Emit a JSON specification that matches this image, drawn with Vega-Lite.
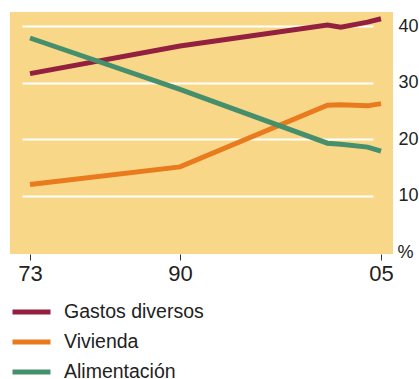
{
  "$schema": "https://vega.github.io/schema/vega-lite/v6.json",
  "width": 383,
  "height": 242,
  "autosize": {"type": "none"},
  "padding": {"left": 10, "top": 12, "right": 26, "bottom": 125},
  "background": "white",
  "config": {
    "view": {"fill": "#F8D888", "stroke": null},
    "font": "Liberation Sans"
  },
  "data": {
    "values": [
      {"year": 1973, "serie": "Gastos diversos", "pct": 31.6},
      {"year": 1990, "serie": "Gastos diversos", "pct": 36.5},
      {"year": 2001, "serie": "Gastos diversos", "pct": 40.2},
      {"year": 2002, "serie": "Gastos diversos", "pct": 39.8},
      {"year": 2004, "serie": "Gastos diversos", "pct": 40.7},
      {"year": 2005, "serie": "Gastos diversos", "pct": 41.3},
      {"year": 1973, "serie": "Vivienda", "pct": 12.0},
      {"year": 1990, "serie": "Vivienda", "pct": 15.1},
      {"year": 2001, "serie": "Vivienda", "pct": 26.0},
      {"year": 2002, "serie": "Vivienda", "pct": 26.1},
      {"year": 2004, "serie": "Vivienda", "pct": 25.9},
      {"year": 2005, "serie": "Vivienda", "pct": 26.3},
      {"year": 1973, "serie": "Alimentación", "pct": 37.9},
      {"year": 1990, "serie": "Alimentación", "pct": 28.8},
      {"year": 2001, "serie": "Alimentación", "pct": 19.3},
      {"year": 2002, "serie": "Alimentación", "pct": 19.1},
      {"year": 2004, "serie": "Alimentación", "pct": 18.6},
      {"year": 2005, "serie": "Alimentación", "pct": 17.9}
    ]
  },
  "mark": {"type": "line", "strokeWidth": 5},
  "encoding": {
    "x": {
      "field": "year",
      "type": "quantitative",
      "scale": {"domain": [1973, 1990, 2005], "range": [20, 170, 371]},
      "axis": {
        "values": [1973, 1990, 2005],
        "labelExpr": "slice(toString(datum.value), 2)",
        "title": null,
        "grid": false,
        "domain": false,
        "tickColor": "#333333",
        "tickWidth": 1,
        "tickSize": 6,
        "labelFontSize": 22,
        "labelColor": "#222222",
        "labelPadding": 3,
        "labelFlush": false
      }
    },
    "y": {
      "field": "pct",
      "type": "quantitative",
      "scale": {"domain": [-0.3, 42.5], "nice": false, "zero": false},
      "axis": {
        "orient": "right",
        "values": [10, 20, 30, 40],
        "domain": false,
        "ticks": false,
        "gridColor": "white",
        "gridWidth": 2,
        "gridOpacity": 1,
        "labelFontSize": 18,
        "labelColor": "#222222",
        "labelPadding": 5,
        "title": "%",
        "titleAngle": 0,
        "titleFontSize": 18,
        "titleFontWeight": "normal",
        "titleColor": "#222222",
        "titleAlign": "left",
        "titleBaseline": "alphabetic",
        "titleX": 4,
        "titleY": 245
      }
    },
    "color": {
      "field": "serie",
      "type": "nominal",
      "scale": {
        "domain": ["Gastos diversos", "Vivienda", "Alimentación"],
        "range": ["#94203F", "#E97A1E", "#458F6C"]
      },
      "legend": {
        "orient": "none",
        "legendX": 0,
        "legendY": 285,
        "direction": "vertical",
        "title": null,
        "padding": 0,
        "symbolType": "stroke",
        "symbolSize": 1444,
        "symbolStrokeWidth": 5,
        "labelFontSize": 19.5,
        "labelColor": "#222222",
        "labelOffset": 11,
        "clipHeight": 30,
        "rowPadding": 0
      }
    }
  }
}
